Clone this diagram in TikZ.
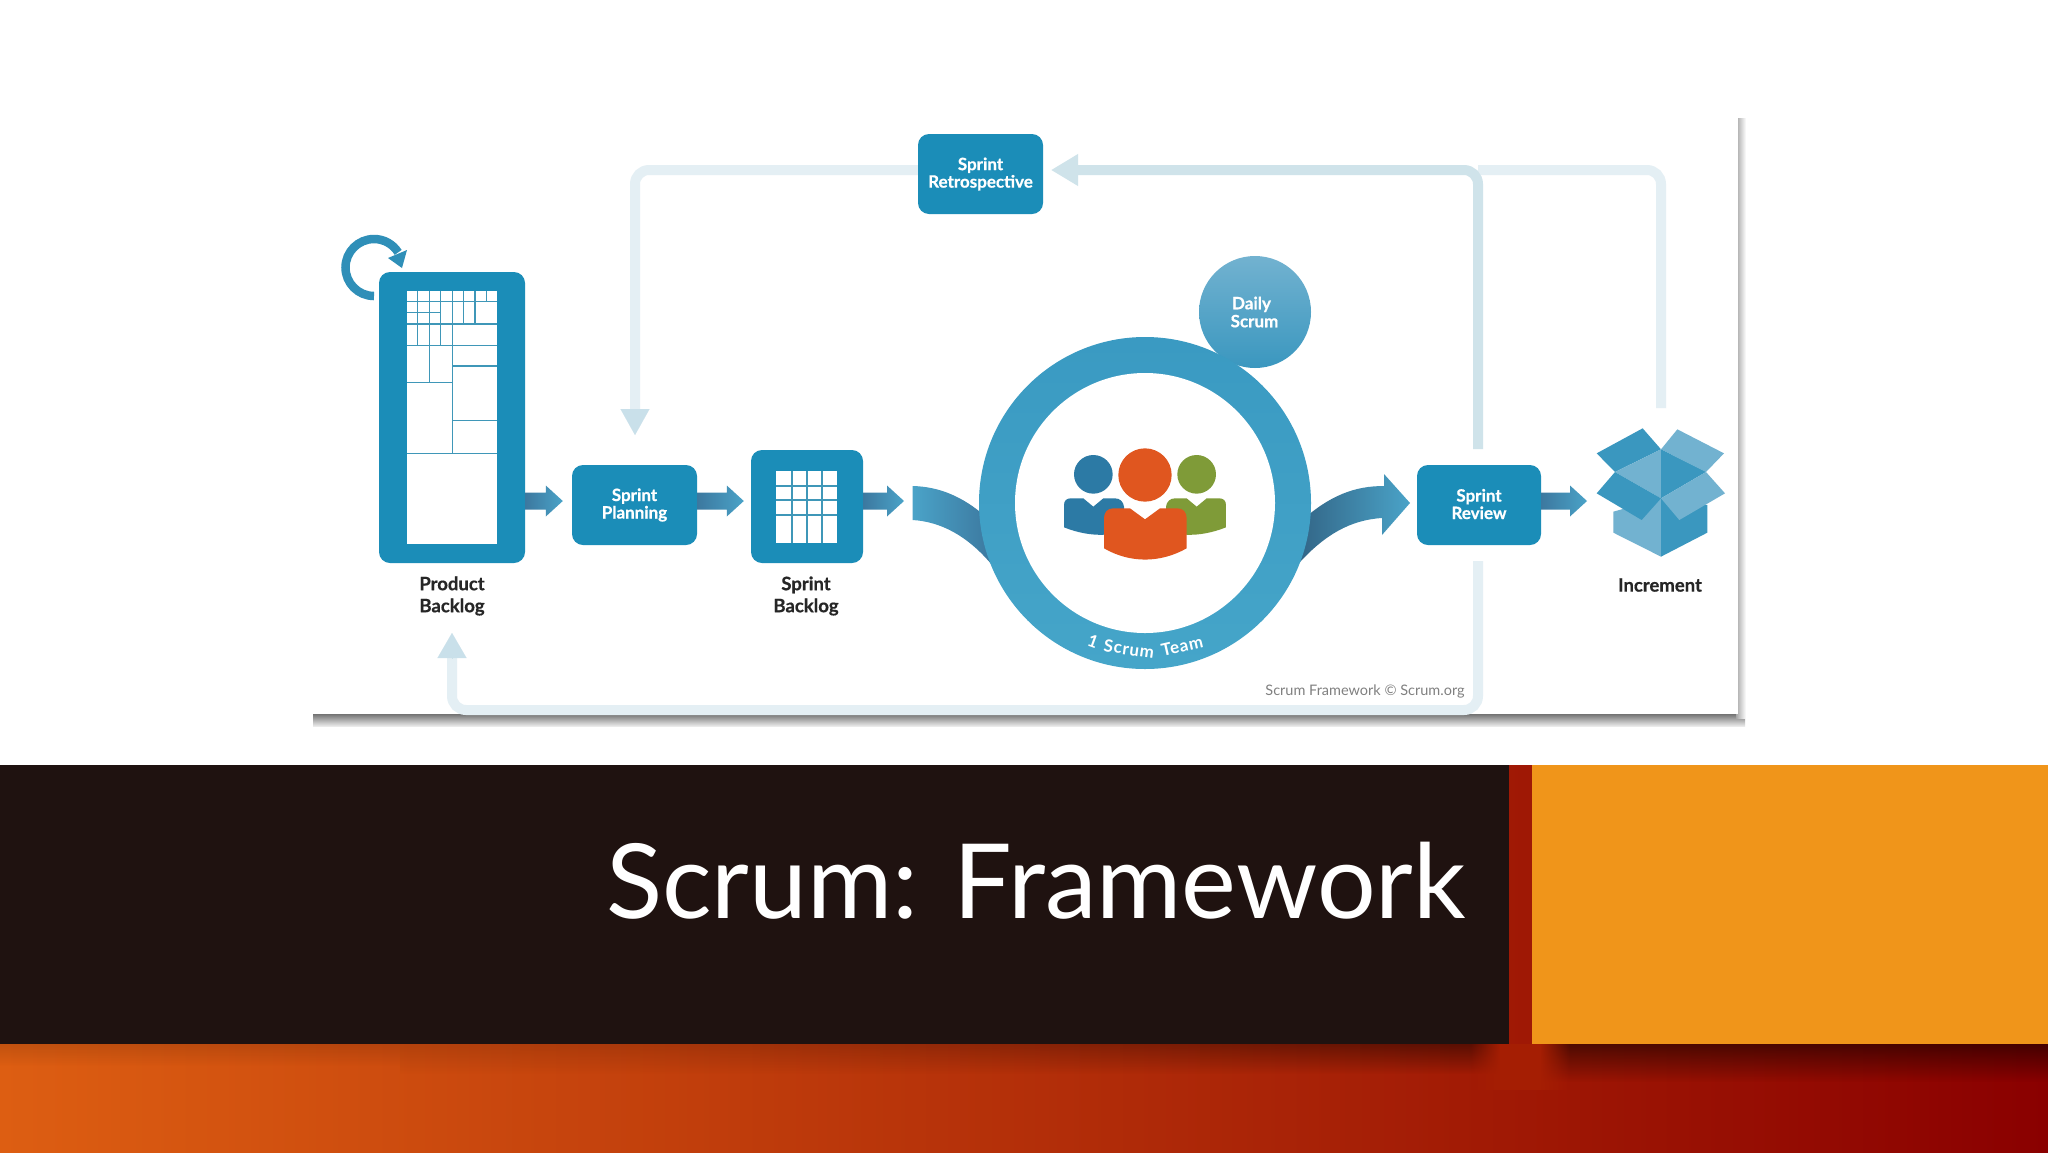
\documentclass[tikz,border=0pt]{standalone}
\usepackage{fontspec}
\setmainfont{Lato}
\newfontfamily\lato{Lato}
\usetikzlibrary{arrows.meta,calc,fadings,shapes.geometric}
\definecolor{boxblue}{HTML}{1B8DB8}
\definecolor{laneA}{HTML}{CFE3EA}
\definecolor{laneB}{HTML}{E4EFF4}
\definecolor{headB}{HTML}{C9E0EA}
\definecolor{flapLight}{HTML}{72B2D0}
\definecolor{flapDark}{HTML}{3A97BF}
\definecolor{loopblue}{HTML}{2F8FB8}
\definecolor{gridline}{HTML}{3F97B8}
\definecolor{arrowDark}{HTML}{3C789F}
\definecolor{arrowLight}{HTML}{4AA3C8}
\definecolor{ringTop}{HTML}{3A9AC2}
\definecolor{ringBottom}{HTML}{45A5C9}
\definecolor{personBlue}{HTML}{2C7AA5}
\definecolor{personGreen}{HTML}{7F9B38}
\definecolor{personOrange}{HTML}{E0561F}
\definecolor{bandL}{HTML}{DD5E12}
\definecolor{bandM}{HTML}{BD3606}
\definecolor{bandR}{HTML}{8A0000}
\definecolor{bandGap}{HTML}{A51E03}
\definecolor{titledark}{HTML}{1F1210}
\definecolor{titleorange}{HTML}{F0951A}
\tikzset{
  panelbox/.style={rectangle,rounded corners=11pt,fill=boxblue,inner sep=0pt,text=white,align=center,font=\lato\bfseries\fontsize{17}{17}\selectfont\addfontfeature{FakeBold=0.6}},
  caption/.style={inner sep=0pt,text=black!85,align=center,font=\lato\bfseries\fontsize{18.5}{22}\selectfont\addfontfeature{FakeBold=0.6}},
  lane/.style={line width=10pt,rounded corners=14pt,line cap=butt},
  blockfill/.style={shade,shading=axis,left color=arrowDark,right color=arrowLight},
  gridrule/.style={gridline,line width=1.1pt},
  ringtext/.style={inner sep=0pt,text=white,font=\lato\bfseries\fontsize{17}{17}\selectfont\addfontfeature{LetterSpace=4}}
}
\newcommand{\blockarrow}[2]{%
  \path[blockfill] let \p1=#1, \p2=#2 in
    (\x1,\y1+8.5) -- (\x2-17,\y1+8.5) -- (\x2-17,\y1+15.5) -- (\x2,\y1) --
    (\x2-17,\y1-15.5) -- (\x2-17,\y1-8.5) -- (\x1,\y1-8.5) -- cycle;}
\begin{document}
\begin{tikzpicture}[x=1pt,y=-1pt]
\useasboundingbox (0,0) rectangle (2048,1152);
\fill[white] (0,0) rectangle (2048,1152);

% panel and its shadow
\shade[top color=black!55,bottom color=black!8] (313,714) rectangle (1745,726);
\shade[left color=black!35,right color=white] (1736,118) rectangle (1746,718);
\fill[white] (311,115) rectangle (1738,714);

% boxes
\node[panelbox,minimum width=146pt,minimum height=291pt] (pb) at (452,417.5) {};
\fill[white] (407,291) rectangle (497,544);
\begin{scope}[shift={(360,260)},x=0.3333pt,y=-0.3333pt]
  \foreach \xa/\xb/\yy in {142/411/124,142/242/157,142/411/192,142/411/256,278/411/318,142/275/368,278/411/481,142/411/580}
    \draw[gridrule] (\xa,\yy) -- (\xb,\yy);
  \foreach \xx/\ya/\yb in {172/92/256,208/92/368,242/92/256,277/92/580,311/92/192,345/92/192,380/92/124}
    \draw[gridrule] (\xx,\ya) -- (\xx,\yb);
\end{scope}
\node[caption] (pbl) at (452,596) {Product\\Backlog};

\node[panelbox,minimum width=125pt,minimum height=80pt] (pl) at (634.5,505) {\raisebox{2pt}{\shortstack{Sprint\\[-1pt]Planning}}};

\node[panelbox,minimum width=112pt,minimum height=113pt] (sb) at (807,506.5) {};
\fill[white] (776,471) rectangle (837,543);
\foreach \xx in {792,807,822} \draw[gridrule] (\xx,471) -- (\xx,543);
\foreach \yy in {486,500,515} \draw[gridrule] (776,\yy) -- (837,\yy);
\node[caption] (sbl) at (806,596) {Sprint\\Backlog};

\node[panelbox,minimum width=125pt,minimum height=80pt] (rt) at (980.5,174) {\raisebox{2pt}{\shortstack{Sprint\\[-1pt]Retrospective}}};
\node[panelbox,minimum width=124pt,minimum height=80pt] (sr) at (1479,505) {\raisebox{2pt}{\shortstack{Sprint\\[-1pt]Review}}};

% feedback lanes
\coordinate (flow) at (0,501);
\coordinate (retroIn) at (1051,170);
\coordinate (reviewTop) at (1478,449);
\coordinate (reviewBottom) at (1478,561);
\coordinate (incTop) at (1661,408);
\coordinate (planTop) at (635,435);
\coordinate (pbBottom) at (452,633);

\draw[lane,laneB] (incTop) -- (1661,170) -- (1478,170);
\draw[lane,laneB] (rt.west |- retroIn) -- (635,170) -- (635,412);
\path[-{Triangle[length=26pt,width=29pt,color=headB]},line width=0.1pt,draw=headB] (635,409) -- (planTop);
\draw[lane,laneB] (reviewBottom) -- (1478,710) -- (452,710) -- (452,658);
\path[-{Triangle[length=25pt,width=29pt,color=headB]},line width=0.1pt,draw=headB] (452,658) -- (pbBottom);
\draw[lane,laneA,-{Triangle[length=27pt,width=30pt,color=laneA]}] (reviewTop) -- (1478,170) -- (retroIn);

% loop arrow
\draw[line width=8.5pt,color=loopblue] (374,296) arc[start angle=90,end angle=328,radius=28.5];
\fill[loopblue] (388,258) -- (407,250) -- (402,268) -- cycle;

% flow arrows
\coordinate (curveIn) at (912,501);
\coordinate (incIn) at (1587,501);
\blockarrow{(pb.east |- flow)}{($(pl.west |- flow)+(-9,0)$)}
\blockarrow{(pl.east |- flow)}{($(sb.west |- flow)+(-7,0)$)}
\blockarrow{(sb.east |- flow)}{($(curveIn)+(-8,0)$)}
\blockarrow{(sr.east |- flow)}{(incIn)}

% sweeping arrows
\path[shade,shading=axis,left color=arrowLight,right color=arrowDark]
  (912.7,486) .. controls (940,486.7) and (963,497) .. (985,516)
  -- (992,565) .. controls (967,535) and (940,521.7) .. (912.7,520) -- cycle;
\path[shade,shading=axis,left color=arrowDark!85!black,right color=arrowLight]
  (1300,522) .. controls (1330,495) and (1355,486) .. (1384,486)
  -- (1384,474) -- (1410,503) -- (1382,535) -- (1382,518)
  .. controls (1350,520) and (1325,535) .. (1300,562) -- cycle;

% daily scrum and team ring
\node[circle,minimum size=112pt,inner sep=0pt,shade,top color=flapLight,bottom color=flapDark,text=white,align=center,font=\lato\bfseries\fontsize{17}{18}\selectfont\addfontfeature{FakeBold=0.6}] (ds) at (1255,312) {\hspace*{-7pt}Daily\\\hspace*{-1pt}Scrum};
\node[circle,minimum size=332pt,inner sep=0pt,shade,top color=ringTop,bottom color=ringBottom] (ring) at (1145,503) {};
\node[circle,minimum size=260pt,inner sep=0pt,fill=white] (inner) at (1145,503) {};
\node[ringtext,rotate=-20] (rt1) at (1093,641) {1};
\node[ringtext,rotate=-8] (rt2) at (1129,649) {Scrum};
\node[ringtext,rotate=13] (rt3) at (1182,646) {Team};

% people
\begin{scope}[shift={(1050,440)},x=0.3333pt,y=-0.3333pt]
  \fill[personBlue] (42,262) -- (42,195) .. controls (42,182) and (50,175) .. (62,175) -- (100,175) -- (130,200) -- (160,175) -- (195,175) .. controls (210,175) and (220,185) .. (222,200) -- (222,275) .. controls (160,292) and (100,285) .. (42,262) -- cycle;
  \fill[personBlue] (130,103) circle[radius=58];
  \fill[personGreen] (528,262) -- (528,195) .. controls (528,182) and (520,175) .. (508,175) -- (470,175) -- (440,200) -- (410,175) -- (375,175) .. controls (360,175) and (350,185) .. (348,200) -- (348,275) .. controls (410,292) and (470,285) .. (528,262) -- cycle;
  \fill[personGreen] (440,103) circle[radius=58];
  \fill[personOrange] (162,325) -- (162,235) .. controls (162,217) and (172,205) .. (190,205) -- (240,205) -- (285,238) -- (330,205) -- (382,205) .. controls (400,205) and (410,217) .. (410,235) -- (410,325) .. controls (330,370) and (240,370) .. (162,325) -- cycle;
  \fill[personOrange] (285,105) circle[radius=80];
\end{scope}

% increment box
\begin{scope}[shift={(1580,410)},x=0.3333pt,y=-0.3333pt]
  \fill[flapLight] (100,305) -- (243,265) -- (243,440) -- (100,368) -- cycle;
  \fill[flapDark] (243,265) -- (382,285) -- (382,368) -- (243,440) -- cycle;
  \fill[flapDark] (50,130) -- (188,55) -- (243,118) -- (105,186) -- cycle;
  \fill[flapLight] (243,118) -- (292,58) -- (432,130) -- (378,186) -- cycle;
  \fill[flapLight] (105,186) -- (243,118) -- (243,265) -- cycle;
  \fill[flapDark] (243,118) -- (378,186) -- (243,265) -- cycle;
  \fill[flapDark] (50,250) -- (105,186) -- (243,265) -- (185,330) -- cycle;
  \fill[flapLight] (243,265) -- (378,186) -- (435,250) -- (298,330) -- cycle;
\end{scope}
\node[caption] (incl) at (1660,585) {Increment};
\node[inner sep=0pt,text=black!50,font=\lato\fontsize{14.5}{15}\selectfont] (copy) at (1365,691) {Scrum Framework © Scrum.org};

% title band
\shade[left color=bandL,middle color=bandM,right color=bandR] (0,765) rectangle (2048,1152);
\fill[black,opacity=0.12,path fading=south] (0,1044) rectangle (400,1066);
\foreach \i in {0,...,27} {
  \pgfmathsetmacro{\xs}{400+\i*40}
  \pgfmathsetmacro{\op}{0.12+0.35*(\i/27)^2}
  \fill[black,opacity=\op,path fading=south] (\xs,1044) rectangle (\xs+40,1074);
}
\fill[black,opacity=0.5,path fading=south] (1520,1044) rectangle (2048,1082);
% soft ends of the two shadows, in the colour of the band behind them
\fill[bandGap,path fading=west] (1470,1044) rectangle (1500,1090);
\fill[bandGap] (1500,1044) rectangle (1540,1090);
\fill[bandGap,path fading=east] (1540,1044) rectangle (1570,1090);
\fill[titledark] (0,765) rectangle (1509,1044);
\fill[titleorange] (1532,765) rectangle (2048,1044);
\node[anchor=base east,inner sep=0pt,text=white,font=\lato\fontsize{103.7}{104}\selectfont] (title) at (1466,918) {Scrum: Framework};
\end{tikzpicture}
\end{document}
